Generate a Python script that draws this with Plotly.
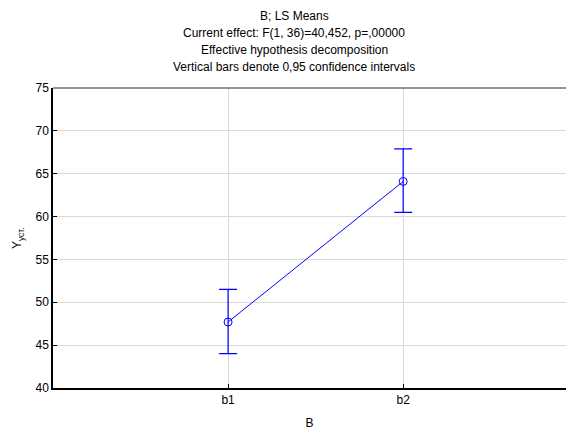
import plotly.graph_objects as go

categories = ["b1", "b2"]
means = [47.7, 64.1]
upper = [51.5, 67.9]
lower = [44.0, 60.5]

xpos = list(range(len(categories)))
err_plus = [u - m for u, m in zip(upper, means)]
err_minus = [m - l for m, l in zip(means, lower)]

FONT = "Liberation Sans, Arial, sans-serif"
BLUE = "#0000ff"

fig = go.Figure()
fig.add_trace(go.Scatter(
    x=xpos, y=means, mode="lines+markers",
    line=dict(color=BLUE, width=1),
    marker=dict(symbol="circle-open", size=8, color=BLUE, line=dict(width=1, color=BLUE)),
    error_y=dict(type="data", symmetric=False, array=err_plus, arrayminus=err_minus,
                 color=BLUE, thickness=1.2, width=9),
    showlegend=False,
))

fig.update_layout(
    width=566, height=430,
    margin=dict(l=53, r=0, t=88, b=42),
    paper_bgcolor="white", plot_bgcolor="white",
    font=dict(family=FONT, size=12, color="black"),
    xaxis=dict(range=[-1, 1.93], tickvals=xpos, ticktext=categories,
               showgrid=True, gridcolor="#d9d9d9", gridwidth=1,
               showline=True, linecolor="black", linewidth=1.5,
               ticks="inside", ticklen=4, tickcolor="black",
               tickfont=dict(size=12),
               zeroline=False, fixedrange=True,
               title=dict(text="B", standoff=12, font=dict(size=12))),
    yaxis=dict(range=[40, 75], dtick=5, tick0=40,
               showgrid=True, gridcolor="#d9d9d9", gridwidth=1,
               showline=True, linecolor="black", linewidth=1.5,
               ticks="inside", ticklen=4, tickcolor="black",
               tickfont=dict(size=12),
               zeroline=False, fixedrange=True),
)

fig.add_shape(type="line", xref="paper", yref="paper", x0=0, x1=1, y0=1, y1=1,
              line=dict(color="#707070", width=1.5))

titles = ["B; LS Means",
          "Current effect: F(1, 36)=40,452, p=,00000",
          "Effective hypothesis decomposition",
          "Vertical bars denote 0,95 confidence intervals"]
for i, t in enumerate(titles):
    fig.add_annotation(text=t, xref="paper", yref="paper",
                       x=(294 - 53) / 513, y=1 + (88 - (16 + 17 * i)) / 300,
                       showarrow=False, xanchor="center", yanchor="middle",
                       font=dict(size=12, color="black"))

fig.add_annotation(text="Y<sub>уст.</sub>", xref="paper", yref="paper",
                   x=(18 - 53) / 513, y=(388 - 238) / 300, textangle=-90,
                   showarrow=False, xanchor="center", yanchor="middle",
                   font=dict(size=12, color="black"))

fig.write_html("out.html")
